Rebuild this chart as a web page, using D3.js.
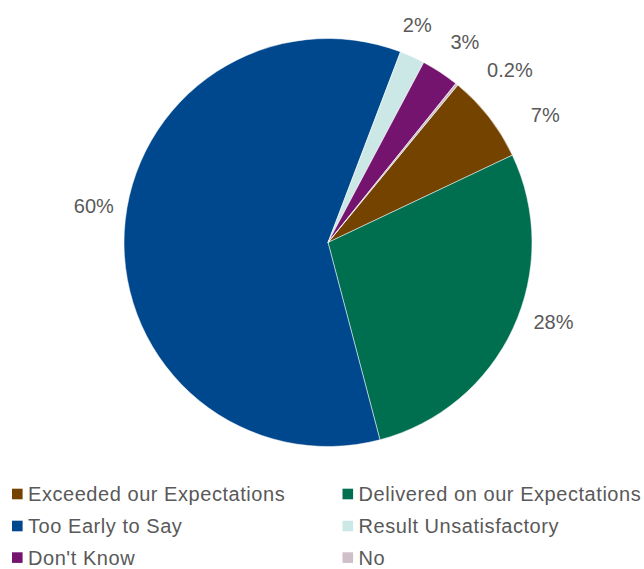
<!DOCTYPE html>
<html>
<head>
<meta charset="utf-8">
<script src="https://cdn.jsdelivr.net/npm/d3@7"></script>
<style>
  html, body { margin: 0; padding: 0; background: #fff; }
  svg { display: block; }
  text { font-family: "Liberation Sans", Arial, sans-serif; fill: #595959; }
</style>
</head>
<body>
<div id="chart"></div>
<script>
// Survey responses, in the order the slices run clockwise
const categories = [
  "Exceeded our Expectations",
  "Delivered on our Expectations",
  "Too Early to Say",
  "Result Unsatisfactory",
  "Don't Know",
  "No"
];
const shares = [7, 28, 60, 2, 3, 0.2];
const valueLabels = ["7%", "28%", "60%", "2%", "3%", "0.2%"];
const colors = ["#754300", "#006F50", "#00488D", "#CCE8E6", "#74146F", "#CFBFC8"];

const width = 644, height = 569;
const cx = 328, cy = 242.5, radius = 204;
const deg = Math.PI / 180;

const svg = d3.select("#chart").append("svg")
  .attr("width", width)
  .attr("height", height);

const data = categories.map((c, i) => ({ name: c, value: shares[i], label: valueLabels[i], color: colors[i] }));

const pie = d3.pie()
  .sort(null)
  .value(d => d.value)
  .startAngle(39.5 * deg)
  .endAngle(39.5 * deg + 2 * Math.PI);

const arc = d3.arc().innerRadius(0).outerRadius(radius);

const arcs = pie(data);

const g = svg.append("g").attr("transform", `translate(${cx},${cy})`);

g.selectAll("path.slice")
  .data(arcs)
  .join("path")
  .attr("class", "slice")
  .attr("d", arc)
  .attr("fill", d => d.data.color)
  .attr("stroke", "#ffffff")
  .attr("stroke-width", 0.5);

// Outside labels: placed along each slice's mid-angle, nudged apart where small slices crowd
const labelLayout = [
  { da: 7.5, r: 252 },   // Exceeded
  { da: -5.6, r: 239 },  // Delivered
  { da: 5.9, r: 237 },   // Too Early
  { da: -2.1, r: 235 },  // Result Unsatisfactory
  { da: 0.9, r: 243 },   // Don't Know
  { da: 7.3, r: 251 }    // No
];

g.selectAll("text.value")
  .data(arcs)
  .join("text")
  .attr("class", "value")
  .attr("text-anchor", "middle")
  .attr("dy", "0.36em")
  .attr("font-size", 20)
  .attr("transform", (d, i) => {
    const a = (d.startAngle + d.endAngle) / 2 + labelLayout[i].da * deg;
    const r = labelLayout[i].r;
    return `translate(${r * Math.sin(a)},${-r * Math.cos(a)})`;
  })
  .text(d => d.data.label);

// Legend: two columns, three rows
const legendCols = [12, 342.5];
const legendRowY = [501, 533, 564.6];

const legend = svg.append("g").attr("class", "legend")
  .selectAll("g")
  .data(data)
  .join("g")
  .attr("transform", (d, i) => `translate(${legendCols[i % 2]},${legendRowY[Math.floor(i / 2)]})`);

legend.append("rect")
  .attr("x", 0)
  .attr("y", -12.3)
  .attr("width", 10.6)
  .attr("height", 10.6)
  .attr("fill", d => d.color);

legend.append("text")
  .attr("x", 16)
  .attr("y", 0)
  .attr("font-size", 20)
  .attr("letter-spacing", "0.55px")
  .text(d => d.name);
</script>
</body>
</html>
